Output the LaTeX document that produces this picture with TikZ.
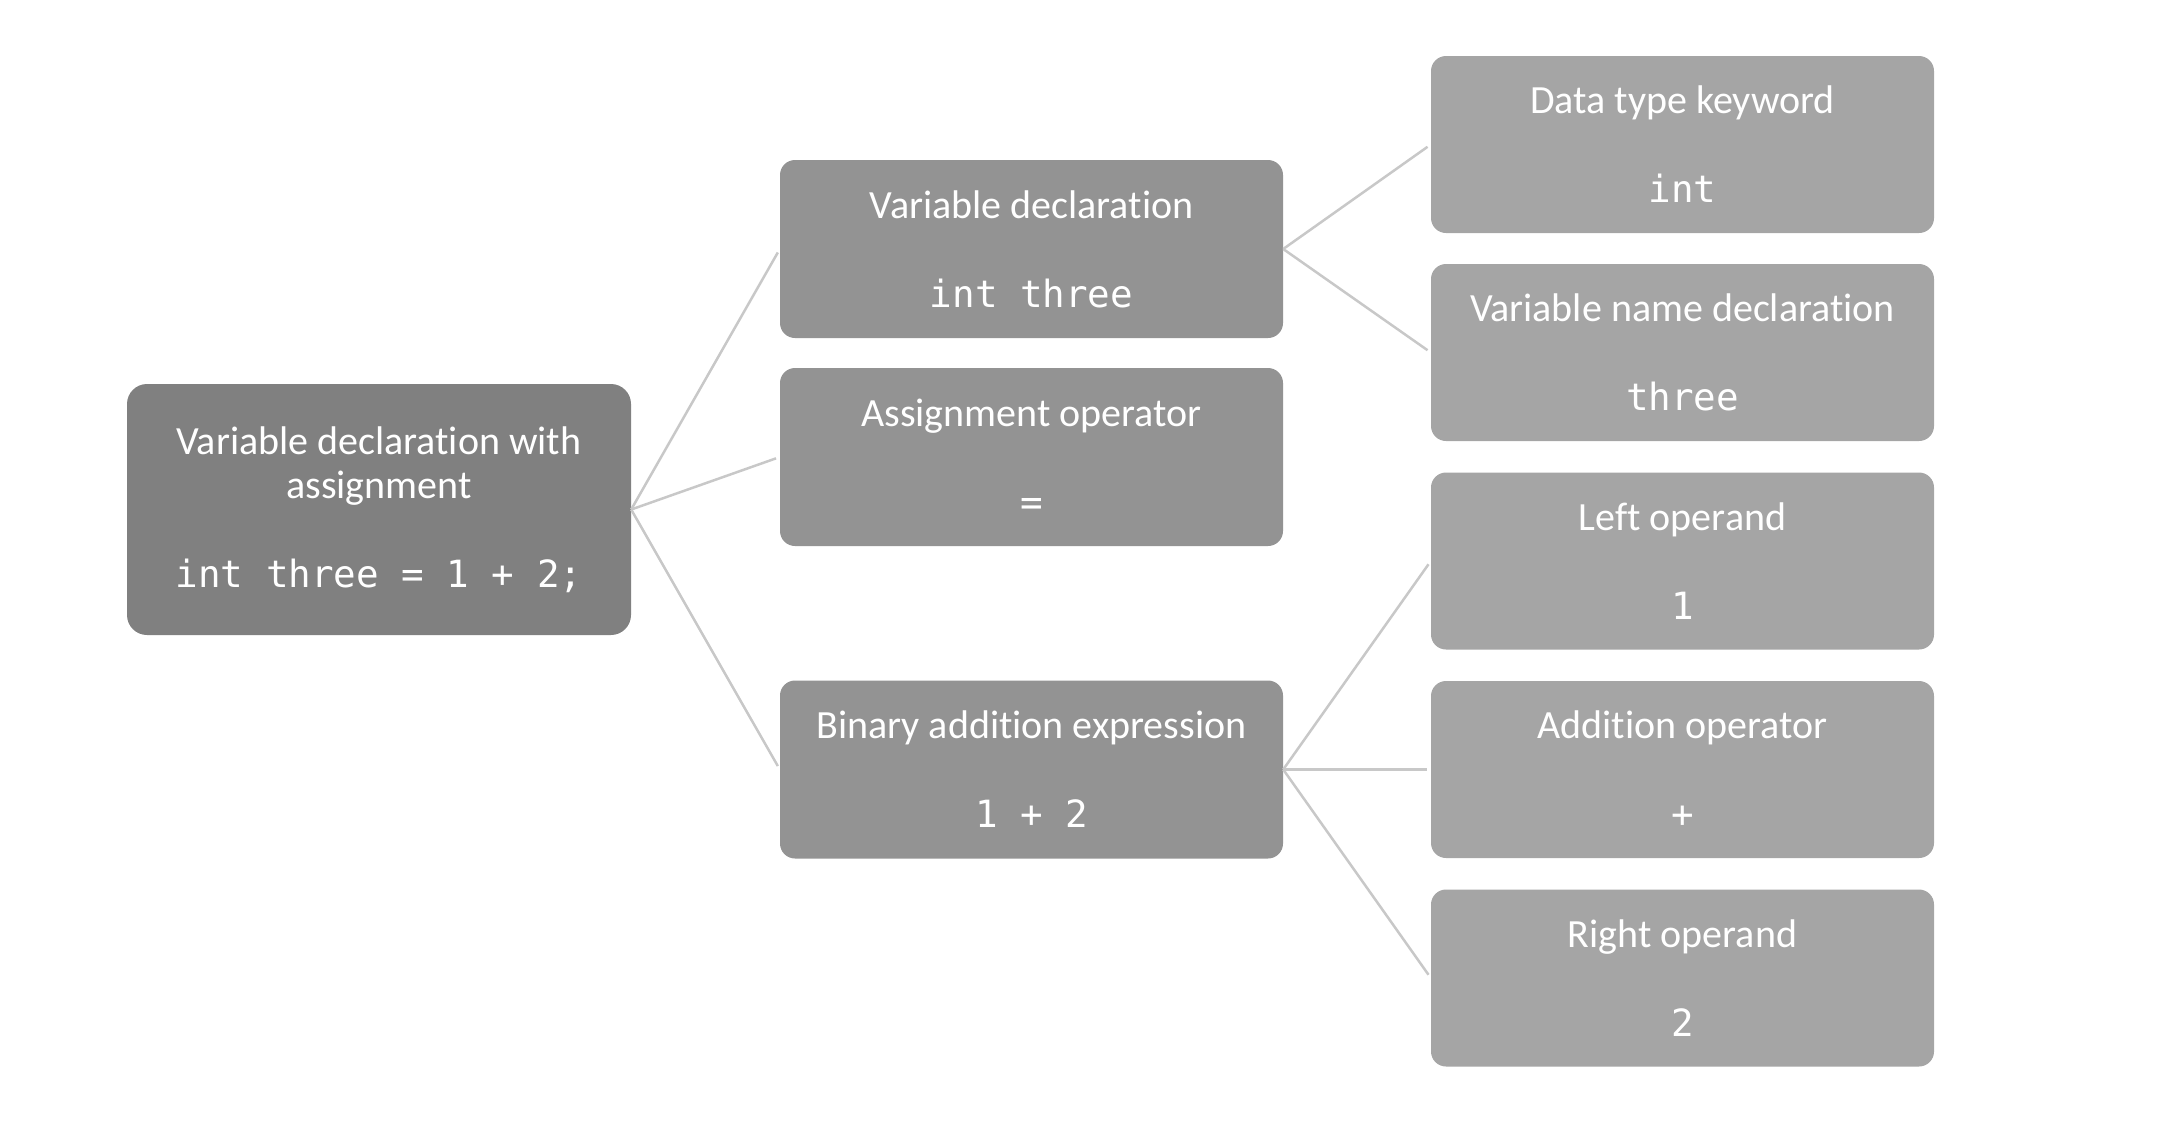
\documentclass[tikz,border=0pt]{standalone}
\usepackage{fontspec}
\setmainfont{Carlito}[Ligatures=NoCommon]
\newfontfamily\codefont{DejaVu Sans Mono}
\definecolor{rootcol}{HTML}{808080}
\definecolor{midcol}{HTML}{939393}
\definecolor{leafcol}{HTML}{A5A5A5}
\definecolor{linkcol}{HTML}{C8C8C8}
\tikzset{
  box/.style={rectangle, rounded corners=15pt, inner sep=0pt, text=white, align=center,
    font=\fontsize{40}{44.5}\selectfont, minimum width=503pt, minimum height=178pt},
  rootbox/.style={box, fill=rootcol, rounded corners=20pt, minimum width=504pt, minimum height=251pt},
  midbox/.style={box, fill=midcol},
  leafbox/.style={box, fill=leafcol, minimum height=177pt},
  link/.style={draw=linkcol, line width=2.5pt, shorten >=4pt}
}
\newcommand{\cd}[1]{{\codefont\fontsize{37.5}{44.5}\selectfont #1}}
\begin{document}
\begin{tikzpicture}[x=1pt,y=-1pt]
\useasboundingbox (0,0) rectangle (2160,1136);
\node[rootbox] (root) at (379,509.5) {Variable declaration with\\assignment\\[44.5pt]\cd{int three = 1 + 2;}};
\node[midbox] (vdecl) at (1031.5,249) {Variable declaration\\[44.5pt]\cd{int three}};
\node[midbox] (assign) at (1031.5,457) {Assignment operator\\[44.5pt]\cd{=}};
\node[midbox] (binary) at (1031.5,769.5) {Binary addition expression\\[44.5pt]\cd{1 + 2}};
\node[leafbox] (dtype) at (1682.5,144.5) {Data type keyword\\[44.5pt]\cd{int}};
\node[leafbox] (vname) at (1682.5,352.5) {Variable name declaration\\[44.5pt]\cd{three}};
\node[leafbox] (left) at (1682.5,561) {Left operand\\[44.5pt]\cd{1}};
\node[leafbox] (addop) at (1682.5,769.5) {Addition operator\\[44.5pt]\cd{+}};
\node[leafbox] (right) at (1682.5,978) {Right operand\\[44.5pt]\cd{2}};
\draw[link] (root.east) -- (vdecl.west);
\draw[link] (root.east) -- (assign.west);
\draw[link] (root.east) -- (binary.west);
\draw[link] (vdecl.east) -- (dtype.west);
\draw[link] (vdecl.east) -- (vname.west);
\draw[link] (binary.east) -- (left.west);
\draw[link] (binary.east) -- (addop.west);
\draw[link] (binary.east) -- (right.west);
\end{tikzpicture}
\end{document}
